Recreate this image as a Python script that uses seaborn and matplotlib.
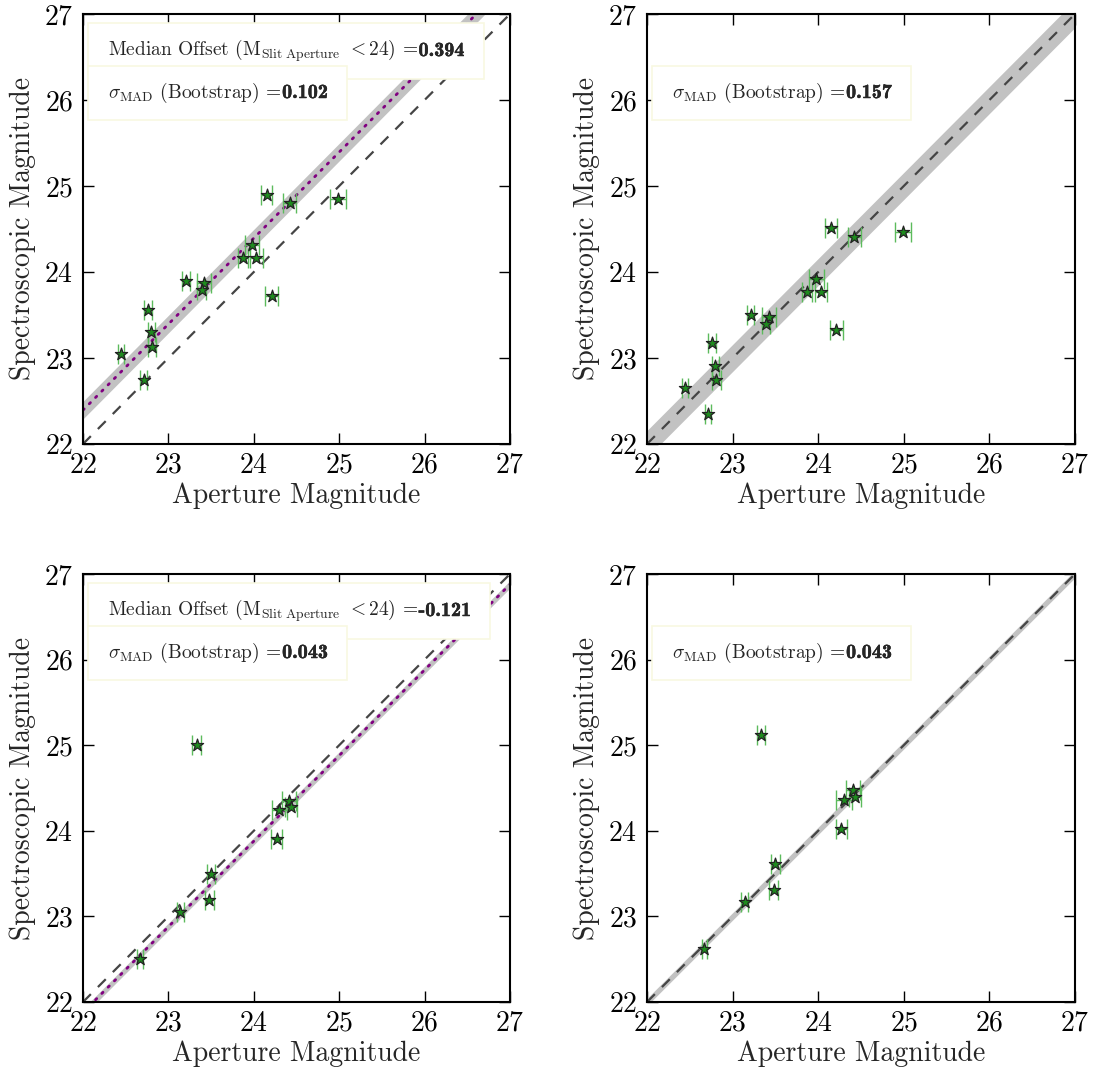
import numpy as np
import pandas as pd
import matplotlib
matplotlib.use("Agg")
import matplotlib.pyplot as plt
import matplotlib.patheffects as pe
from matplotlib.patches import Rectangle
import seaborn as sns

# ---------------- data ----------------
ap_top = [24.15, 24.42, 24.99, 23.98, 23.87, 24.03, 23.21, 23.42, 23.39, 24.21,
          22.76, 22.80, 22.81, 22.44, 22.71]
ap_top_err = [0.065, 0.076, 0.094, 0.084, 0.06, 0.072, 0.045, 0.082, 0.05, 0.074,
              0.045, 0.043, 0.049, 0.035, 0.037]
spec_tl = [24.90, 24.80, 24.85, 24.31, 24.16, 24.16, 23.89, 23.87, 23.79, 23.72,
           23.56, 23.30, 23.13, 23.05, 22.75]
spec_tr = [24.51, 24.41, 24.46, 23.92, 23.77, 23.77, 23.50, 23.48, 23.40, 23.33,
           23.17, 22.91, 22.74, 22.65, 22.35]

ap_bot = [23.33, 24.41, 24.43, 24.30, 24.27, 23.50, 23.48, 23.14, 22.67]
ap_bot_err = [0.05, 0.084, 0.07, 0.09, 0.064, 0.05, 0.055, 0.04, 0.033]
spec_bl = [25.00, 24.35, 24.28, 24.24, 23.90, 23.50, 23.19, 23.05, 22.50]
spec_br = [25.12, 24.48, 24.40, 24.36, 24.02, 23.61, 23.31, 23.17, 22.62]

offsets = [0.394, 0.0, -0.121, 0.0]
offset_labels = ["0.394", None, "-0.121", None]
sigmas = [0.102, 0.157, 0.043, 0.043]
sigma_labels = ["0.102", "0.157", "0.043", "0.043"]
ticks = [22, 23, 24, 25, 26, 27]

# ---------------- style ----------------
sns.set_style("ticks")
plt.rcParams.update({
    "font.family": ["cmr10", "DejaVu Serif"],
    "mathtext.fontset": "cm",
    "axes.formatter.use_mathtext": True,
    "axes.linewidth": 1.5,
    "axes.edgecolor": "black",
    "xtick.direction": "in",
    "ytick.direction": "in",
    "xtick.top": True,
    "ytick.right": True,
    "xtick.major.size": 8,
    "ytick.major.size": 8,
    "xtick.major.width": 1.0,
    "ytick.major.width": 1.0,
    "xtick.major.pad": 6,
    "ytick.major.pad": 7,
    "xtick.color": "black",
    "ytick.color": "black",
})

fig = plt.figure(figsize=(11, 10.76), dpi=100)
W, H = 1100, 1076
boxes = [(83, 14, 427, 430), (647, 14, 428, 430), (83, 574, 427, 428), (647, 574, 428, 428)]
axes = [fig.add_axes([l / W, 1 - (t + h) / H, w / W, h / H]) for (l, t, w, h) in boxes]

panels = [
    (ap_top, ap_top_err, spec_tl),
    (ap_top, ap_top_err, spec_tr),
    (ap_bot, ap_bot_err, spec_bl),
    (ap_bot, ap_bot_err, spec_br),
]

TXT = 14
text_pairs = []  # (ax, regular text, bold text, zorder)
line_x = np.array([22.0, 27.0])
for i, ax in enumerate(axes):
    xs, xe, ys = panels[i]
    off, sig = offsets[i], sigmas[i]
    ax.fill_between(line_x, line_x + off - sig, line_x + off + sig,
                    color="#c2c2c2", lw=0, zorder=1)
    ax.plot(line_x, line_x, color="#454545", lw=1.6, ls=(0, (5, 4.5)), zorder=2)
    if off != 0.0:
        ax.plot(line_x, line_x + off, color="purple", lw=2.0, ls=(0, (0.6, 2.6)),
                dash_capstyle="round", zorder=2)
    ax.errorbar(xs, ys, xerr=xe, fmt="none", ecolor="#5cbb5c",
                elinewidth=1.0, capsize=7.5, capthick=1.0, zorder=3)
    df = pd.DataFrame({"ap": xs, "spec": ys})
    sns.scatterplot(data=df, x="ap", y="spec", ax=ax, marker="*", s=85,
                    color="#1e8c1e", edgecolor="#222222", linewidth=0.9, zorder=4,
                    legend=False)
    ax.set_xlim(22, 27)
    ax.set_ylim(22, 27)
    ax.set_xticks(ticks)
    ax.set_yticks(ticks)
    ax.tick_params(labelsize=20)
    ax.set_xlabel("Aperture Magnitude", fontsize=20, labelpad=3)
    ax.set_ylabel("Spectroscopic Magnitude", fontsize=20, labelpad=6)

    hpx = ax.bbox.height
    x0 = 24.5 / ax.bbox.width
    bold_fx = [pe.withStroke(linewidth=0.3, foreground="black")]
    if offset_labels[i] is not None:
        t1 = ax.text(x0, 1 - 42 / hpx,
                     r"Median Offset ($\rm M_{Slit\ Aperture}$ $< 24$) =",
                     transform=ax.transAxes, fontsize=TXT, va="baseline", ha="left",
                     zorder=10.5)
        t2 = ax.text(0, 1 - 42 / hpx, offset_labels[i], transform=ax.transAxes,
                     fontsize=TXT + 0.5, family="cmb10", va="baseline", ha="left",
                     zorder=10.5, path_effects=bold_fx)
        text_pairs.append((ax, t1, t2, 10))
    t1 = ax.text(x0, 1 - 84 / hpx, r"$\sigma_{\rm MAD}$ (Bootstrap) =",
                 transform=ax.transAxes, fontsize=TXT, va="baseline", ha="left",
                 zorder=12.5)
    t2 = ax.text(0, 1 - 84 / hpx, sigma_labels[i], transform=ax.transAxes,
                 fontsize=TXT + 0.5, family="cmb10", va="baseline", ha="left",
                 zorder=12.5, path_effects=bold_fx)
    text_pairs.append((ax, t1, t2, 12))

# place bold values and boxes using rendered extents
fig.canvas.draw()
renderer = fig.canvas.get_renderer()
PADX, PADV = 19.5, 15
for ax, t1, t2, z in text_pairs:
    inv = ax.transAxes.inverted()
    e1 = t1.get_window_extent(renderer)
    xr = inv.transform((e1.x1 + 1, e1.y0))[0]
    t2.set_x(xr)
fig.canvas.draw()
for ax, t1, t2, z in text_pairs:
    inv = ax.transAxes.inverted()
    e1 = t1.get_window_extent(renderer)
    e2 = t2.get_window_extent(renderer)
    (ax0, ay0) = inv.transform((e1.x0 - PADX, e1.y0 - PADV))
    (ax1, ay1) = inv.transform((e2.x1 + PADX, e1.y1 + PADV))
    ax.add_patch(Rectangle((ax0, ay0), ax1 - ax0, ay1 - ay0, transform=ax.transAxes,
                           facecolor="white", edgecolor="#f8f8e2", lw=1.2,
                           zorder=z, clip_on=False))

fig.savefig("out.png", dpi=100)
